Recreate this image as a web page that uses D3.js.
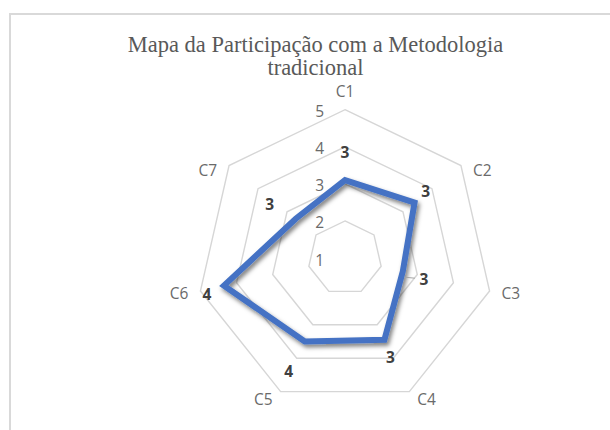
<!DOCTYPE html>
<html>
<head>
<meta charset="utf-8">
<script src="https://cdn.jsdelivr.net/npm/d3@7"></script>
</head>
<body style="margin:0;background:#fff">
<div id="chart"></div>
<script>
// Data
var categories = ['C1', 'C2', 'C3', 'C4', 'C5', 'C6', 'C7'];
var values     = [3.1, 3.4, 2.6, 3.45, 3.5, 4.35, 2.7];
var ringTicks  = [1, 2, 3, 4, 5];
var titleLines = ['Mapa da Participação com a Metodologia', 'tradicional'];

// Data label nudges (px, relative to the vertex) - Excel labels were moved by hand
var labelNudge = [[0, -28], [11, -12], [21, 8], [6, 17], [-16, 29], [-17, 8], [-26, -15]];

var W = 610, H = 430;
var cx = 345, cy = 258;
var SANS = 'Open Sans';

var svg = d3.select('#chart').append('svg')
    .attr('width', W)
    .attr('height', H)
    .style('display', 'block');

var defs = svg.append('defs');
var shadow = defs.append('filter')
    .attr('id', 'shadow')
    .attr('x', '-20%').attr('y', '-20%')
    .attr('width', '140%').attr('height', '140%');
shadow.append('feDropShadow')
    .attr('dx', 2).attr('dy', 3)
    .attr('stdDeviation', 2)
    .attr('flood-color', '#000')
    .attr('flood-opacity', 0.5);

// chart area frame (cropped on the right and bottom in the reference)
svg.append('rect')
    .attr('x', 10).attr('y', 14)
    .attr('width', 700).attr('height', 500)
    .attr('fill', 'none')
    .attr('stroke', '#d9d9d9')
    .attr('stroke-width', 2);

// title
svg.append('text')
    .attr('x', 315.5)
    .attr('y', 52)
    .attr('text-anchor', 'middle')
    .attr('font-family', 'Liberation Serif')
    .attr('font-size', 22.5)
    .attr('fill', '#595959')
    .selectAll('tspan')
    .data(titleLines)
    .join('tspan')
    .attr('x', 315.5)
    .attr('dy', function (d, i) { return i === 0 ? 0 : 23; })
    .text(function (d) { return d; });

var r = d3.scaleLinear().domain([1, 5]).range([0, 148.3]);
var angle = d3.scaleLinear().domain([0, categories.length]).range([0, 2 * Math.PI]);

function pt(i, v) {
    var a = angle(i);
    return [cx + r(v) * Math.sin(a), cy - r(v) * Math.cos(a)];
}

var radial = d3.lineRadial()
    .angle(function (d) { return angle(d.i); })
    .radius(function (d) { return r(d.v); })
    .curve(d3.curveLinearClosed);

var g = svg.append('g').attr('transform', 'translate(' + cx + ',' + cy + ')');

// rings (value 1 sits at the centre, so it has no ring)
g.selectAll('path.ring')
    .data(ringTicks.filter(function (t) { return t > 1; }))
    .join('path')
    .attr('class', 'ring')
    .attr('d', function (t) {
        return radial(categories.map(function (c, i) { return { i: i, v: t }; }));
    })
    .attr('fill', 'none')
    .attr('stroke', '#d6d6d6')
    .attr('stroke-width', 1.4);

// tick labels along the C1 axis
svg.selectAll('text.tick')
    .data(ringTicks)
    .join('text')
    .attr('class', 'tick')
    .attr('x', cx - 21)
    .attr('y', function (t) { return cy - r(t) + 1.5; })
    .attr('text-anchor', 'end')
    .attr('dominant-baseline', 'central')
    .attr('font-family', SANS)
    .attr('font-size', 15.5)
    .attr('fill', '#6a6a6a')
    .text(function (t) { return t; });

// category labels
svg.selectAll('text.cat')
    .data(categories)
    .join('text')
    .attr('class', 'cat')
    .each(function (c, i) {
        var p = pt(i, 5);
        var s = Math.sin(angle(i)), co = Math.cos(angle(i));
        var dx = 0, dy = 0, anchor = 'middle';
        if (s > 0.1) { anchor = 'start'; dx = Math.abs(s) > 0.6 ? 12 : 8; }
        if (s < -0.1) { anchor = 'end'; dx = -(Math.abs(s) > 0.6 ? 12 : 8); }
        if (co > 0.9) dy = -19;
        else if (co > 0) dy = 4.5;
        else if (co > -0.8) dy = 2;
        else dy = 7;
        d3.select(this)
            .attr('x', p[0] + dx)
            .attr('y', p[1] + dy)
            .attr('text-anchor', anchor);
    })
    .attr('dominant-baseline', 'central')
    .attr('font-family', SANS)
    .attr('font-size', 15.5)
    .attr('fill', '#6a6a6a')
    .text(function (c) { return c; });

// series polygon
var series = values.map(function (v, i) { return { i: i, v: v }; });
g.append('path')
    .datum(series)
    .attr('d', radial)
    .attr('fill', 'none')
    .attr('stroke', '#4472C4')
    .attr('stroke-width', 6)
    .attr('stroke-linejoin', 'miter')
    .attr('filter', 'url(#shadow)');

// leader line for the C3 label
var p3 = pt(2, values[2]);
svg.append('line')
    .attr('x1', p3[0] + 2).attr('y1', p3[1] + 6)
    .attr('x2', p3[0] + 12).attr('y2', p3[1] + 7)
    .attr('stroke', '#a6a6a6')
    .attr('stroke-width', 1);

// data labels
svg.selectAll('text.val')
    .data(series)
    .join('text')
    .attr('class', 'val')
    .attr('x', function (d) { return pt(d.i, d.v)[0] + labelNudge[d.i][0]; })
    .attr('y', function (d) { return pt(d.i, d.v)[1] + labelNudge[d.i][1]; })
    .attr('text-anchor', 'middle')
    .attr('dominant-baseline', 'central')
    .attr('font-family', SANS)
    .attr('font-size', 15.5)
    .attr('font-weight', 'bold')
    .attr('fill', '#404040')
    .text(function (d) { return Math.round(d.v); });
</script>
</body>
</html>
